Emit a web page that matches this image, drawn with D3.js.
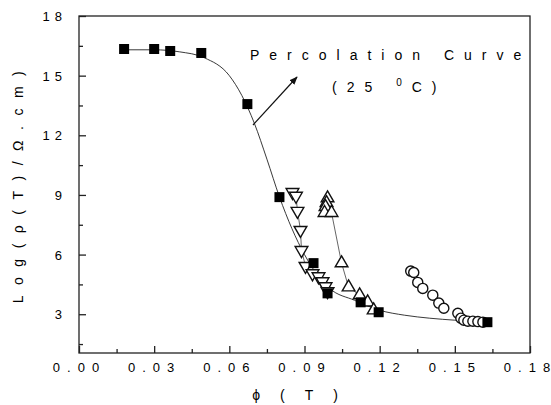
<!DOCTYPE html>
<html>
<head>
<meta charset="utf-8">
<script src="https://cdn.jsdelivr.net/npm/d3@7"></script>
<style>
  body { margin: 0; background: #fff; }
  text { font-family: "Liberation Sans", Arial, sans-serif; fill: #000; }
</style>
</head>
<body>
<script>
// donnees
const squaresX = [0.018, 0.030, 0.0364, 0.0488, 0.0672, 0.080, 0.0936, 0.0992, 0.1124, 0.1196, 0.163]
const squaresY = [16.34, 16.34, 16.24, 16.14, 13.57, 8.89, 5.57, 4.05, 3.6, 3.1, 2.6]

const downX = [0.0852, 0.0866, 0.0872, 0.0884, 0.0888, 0.0904, 0.0932, 0.0956, 0.0972, 0.0984, 0.0992]
const downY = [9.14, 8.95, 8.19, 7.23, 6.22, 5.42, 5.05, 4.9, 4.65, 4.4, 4.15]

const upX = [0.0992, 0.0988, 0.0984, 0.098, 0.1008, 0.1048, 0.1076, 0.112, 0.1152, 0.1176]
const upY = [8.84, 8.6, 8.4, 8.1, 8.1, 5.57, 4.36, 3.96, 3.6, 3.2]

const circX = [0.1324, 0.1336, 0.1352, 0.1372, 0.1412, 0.1436, 0.1456, 0.1512, 0.1524, 0.1536, 0.1552, 0.1572, 0.1592, 0.1612]
const circY = [5.17, 5.1, 4.6, 4.3, 3.96, 3.56, 3.3, 3.05, 2.8, 2.7, 2.65, 2.65, 2.63, 2.6]

// courbe de percolation (ajustement trace sur la figure)
const curveX = [0.018, 0.030, 0.040, 0.050, 0.060, 0.065, 0.070, 0.075, 0.080, 0.085, 0.090, 0.095, 0.100, 0.110, 0.120, 0.130, 0.140, 0.150, 0.163]
const curveY = [16.3, 16.3, 16.2, 15.9, 15.0, 14.0, 12.6, 10.8, 8.9, 7.3, 6.0, 5.0, 4.3, 3.7, 3.2, 2.95, 2.8, 2.7, 2.6]

const xTicks = [0, 0.03, 0.06, 0.09, 0.12, 0.15, 0.18]
const xTickLabels = ["0.00", "0.03", "0.06", "0.09", "0.12", "0.15", "0.18"]
const yTicks = [3, 6, 9, 12, 15, 18]
const yTickLabels = ["3", "6", "9", "12", "15", "18"]

const W = 551, H = 405
const margin = { top: 16, right: 21, bottom: 52, left: 79 }

const svg = d3.select("body").append("svg")
    .attr("width", W)
    .attr("height", H)

const g = svg.append("g")
    .attr("transform", "translate(" + margin.left + "," + margin.top + ")")

const width = W - margin.left - margin.right
const height = H - margin.top - margin.bottom

const x = d3.scaleLinear().domain([0, 0.18]).range([0, width])
const y = d3.scaleLinear().domain([1.05, 18]).range([height, 0])

// cadre
g.append("rect")
    .attr("width", width)
    .attr("height", height)
    .attr("fill", "none")
    .attr("stroke", "#222")
    .attr("stroke-width", 1.3)

// axe X, graduations vers l'interieur
const minorX = d3.range(0.015, 0.18, 0.03)
g.append("g")
    .attr("transform", "translate(0," + height + ")")
    .call(d3.axisTop(x).tickValues(xTicks).tickSize(7).tickFormat(""))
    .call(a => a.select(".domain").remove())
g.append("g")
    .attr("transform", "translate(0," + height + ")")
    .call(d3.axisTop(x).tickValues(minorX).tickSize(4).tickFormat(""))
    .call(a => a.select(".domain").remove())

// espacement sur tous les caracteres sauf le dernier (pas d'espace en trop a droite)
const xl = g.selectAll(".xlab")
    .data(xTicks)
    .join("text")
    .attr("class", "xlab")
    .attr("x", d => x(d) - 3)
    .attr("y", height + 19)
    .attr("text-anchor", "middle")
    .attr("font-size", 13)
xl.append("tspan")
    .attr("letter-spacing", 7)
    .text((d, i) => xTickLabels[i].slice(0, -1))
xl.append("tspan")
    .text((d, i) => xTickLabels[i].slice(-1))

// axe Y
const minorY = d3.range(1.5, 18, 3)
g.append("g")
    .call(d3.axisRight(y).tickValues(yTicks).tickSize(7).tickFormat(""))
    .call(a => a.select(".domain").remove())
g.append("g")
    .call(d3.axisRight(y).tickValues(minorY).tickSize(4).tickFormat(""))
    .call(a => a.select(".domain").remove())

g.selectAll(".ylab")
    .data(yTicks)
    .join("text")
    .attr("class", "ylab")
    .attr("x", -12)
    .attr("y", d => y(d) + 5)
    .attr("text-anchor", "end")
    .attr("font-size", 13)
    .attr("letter-spacing", 5)
    .text((d, i) => yTickLabels[i])

g.selectAll(".tick line").attr("stroke", "#222").attr("stroke-width", 1.3)

// titres des axes
svg.append("text")
    .attr("transform", "translate(23,182) rotate(-90)")
    .attr("text-anchor", "middle")
    .attr("font-size", 14)
    .attr("letter-spacing", 10.5)
    .text("Log(ρ(T)/Ω.cm)")

svg.append("text")
    .attr("x", 305)
    .attr("y", 400)
    .attr("text-anchor", "middle")
    .attr("font-size", 14)
    .attr("letter-spacing", 20)
    .text("ϕ(T)")

// lignes
const line = d3.line().x(d => x(d[0])).y(d => y(d[1]))

g.append("path")
    .datum(d3.zip(curveX, curveY))
    .attr("d", line.curve(d3.curveMonotoneX))
    .attr("fill", "none")
    .attr("stroke", "#222")
    .attr("stroke-width", 0.9)

g.append("path")
    .datum(d3.zip(downX, downY))
    .attr("d", d3.line().x(d => x(d[0])).y(d => y(d[1])))
    .attr("fill", "none")
    .attr("stroke", "#222")
    .attr("stroke-width", 0.7)

g.append("path")
    .datum(d3.zip(upX.slice(3), upY.slice(3)))
    .attr("d", d3.line().x(d => x(d[0])).y(d => y(d[1])))
    .attr("fill", "none")
    .attr("stroke", "#222")
    .attr("stroke-width", 0.7)

// symboles
g.append("g").selectAll("path")
    .data(d3.zip(circX, circY))
    .join("path")
    .attr("transform", d => "translate(" + x(d[0]) + "," + y(d[1]) + ")")
    .attr("d", d3.symbol(d3.symbolCircle, 80))
    .attr("fill", "#fff")
    .attr("stroke", "#111")
    .attr("stroke-width", 1.4)

g.append("g").selectAll("path")
    .data(d3.zip(downX, downY))
    .join("path")
    .attr("transform", d => "translate(" + x(d[0]) + "," + y(d[1]) + ") rotate(180)")
    .attr("d", d3.symbol(d3.symbolTriangle, 70))
    .attr("fill", "#fff")
    .attr("stroke", "#111")
    .attr("stroke-width", 1.4)

g.append("g").selectAll("path")
    .data(d3.zip(upX, upY))
    .join("path")
    .attr("transform", d => "translate(" + x(d[0]) + "," + y(d[1]) + ")")
    .attr("d", d3.symbol(d3.symbolTriangle, 70))
    .attr("fill", "#fff")
    .attr("stroke", "#111")
    .attr("stroke-width", 1.4)

g.append("g").selectAll("rect")
    .data(d3.zip(squaresX, squaresY))
    .join("rect")
    .attr("x", d => x(d[0]) - 5)
    .attr("y", d => y(d[1]) - 5)
    .attr("width", 10)
    .attr("height", 10)
    .attr("fill", "#000")

// annotation
svg.append("defs").append("marker")
    .attr("id", "fl")
    .attr("viewBox", "0 0 10 10")
    .attr("refX", 9)
    .attr("refY", 5)
    .attr("markerWidth", 7)
    .attr("markerHeight", 7)
    .attr("orient", "auto")
    .append("path")
    .attr("d", "M0,1L10,5L0,9Z")
    .attr("fill", "#111")

svg.append("line")
    .attr("x1", 253).attr("y1", 125)
    .attr("x2", 297).attr("y2", 77)
    .attr("stroke", "#111")
    .attr("stroke-width", 1.2)
    .attr("marker-end", "url(#fl)")

svg.append("text")
    .attr("x", 250)
    .attr("y", 60)
    .attr("font-size", 14)
    .attr("letter-spacing", 10)
    .text("Percolation Curve")

svg.append("text")
    .attr("x", 332)
    .attr("y", 92)
    .attr("font-size", 14)
    .attr("letter-spacing", 10)
    .html('(25 <tspan dy="-6" font-size="10">0</tspan><tspan dy="6">C)</tspan>')
</script>
</body>
</html>
